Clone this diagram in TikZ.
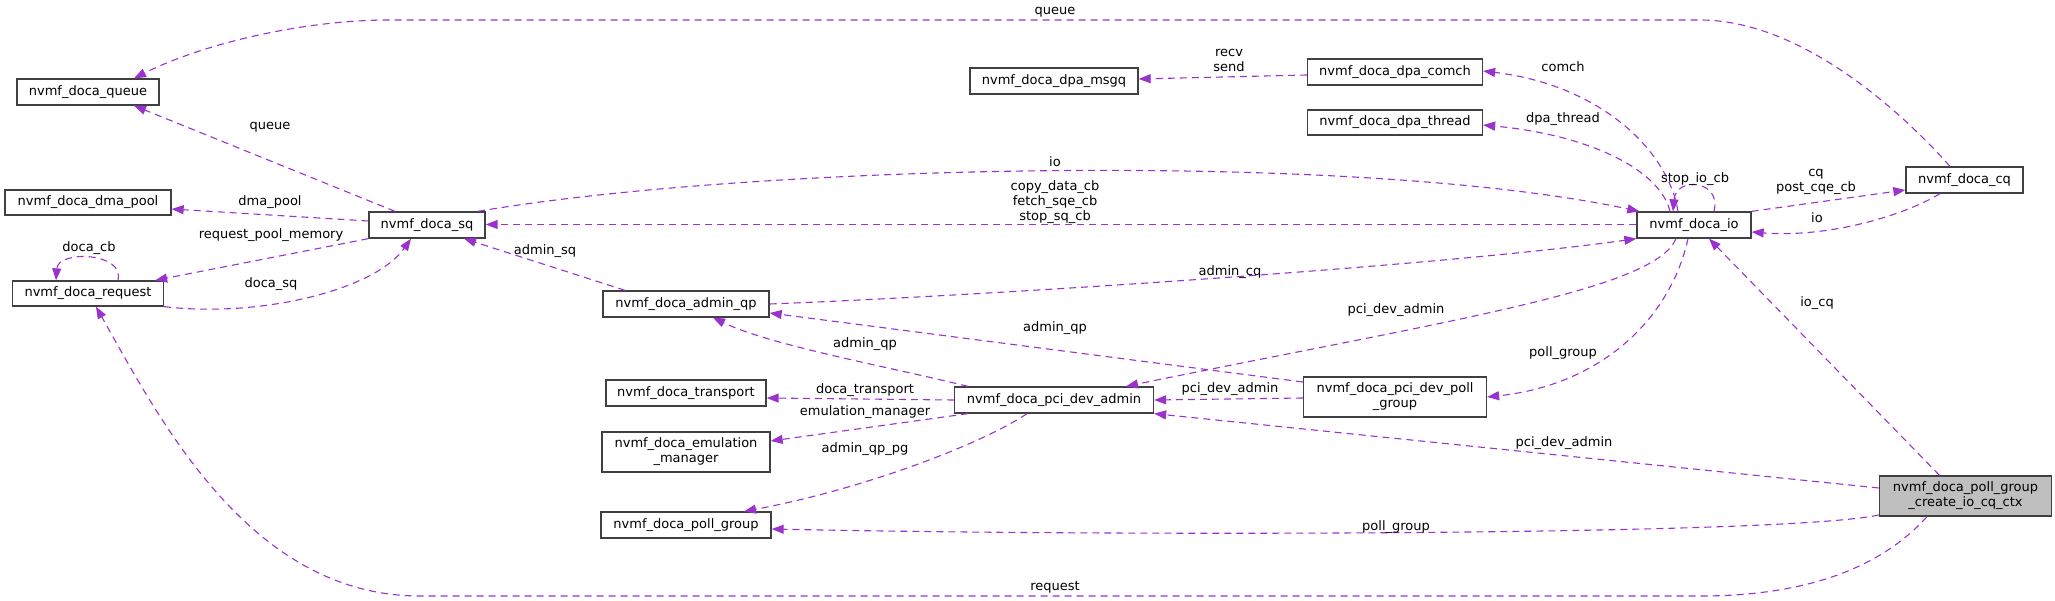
\documentclass[tikz,border=0pt]{standalone}
\usepackage{fontspec}
\setmainfont{DejaVu Sans}
\usetikzlibrary{arrows.meta}
\definecolor{edgecol}{HTML}{9A32CD}
\definecolor{boxcol}{HTML}{404040}
\definecolor{mainfill}{HTML}{BFBFBF}
\def\txtsize{\fontsize{13}{15}\selectfont}
\tikzset{
cls/.style={draw=boxcol, line width=1.3pt, fill=white, inner sep=0pt,
	minimum height=26pt, font=\txtsize, align=center},
cls2/.style={cls, minimum height=40pt},
focus/.style={cls2, fill=mainfill},
uses/.style={draw=edgecol, line width=1.1pt, dash pattern=on 7pt off 5pt,
	-{Triangle[length=12pt,width=9pt,fill=edgecol]}},
lbl/.style={inner sep=0pt, font=\txtsize, align=center},
}

\begin{document}
\begin{tikzpicture}[x=1pt, y=-1pt]
	\useasboundingbox (0,0) rectangle (2055,601);
	%
	\node[cls, minimum width=142pt] (queue) at (88,92) {nvmf\_doca\_queue};
	\node[cls, minimum width=166pt, minimum height=25pt] (dmapool) at (88,202.5) {nvmf\_doca\_dma\_pool};
	\node[cls, minimum width=151pt, minimum height=25pt] (request) at (88,293.5) {nvmf\_doca\_request};
	\node[cls, minimum width=116pt] (sq) at (427,225) {nvmf\_doca\_sq};
	\node[cls, minimum width=166pt] (adminqp) at (686,304) {nvmf\_doca\_admin\_qp};
	\node[cls, minimum width=160pt] (transport) at (686,393) {nvmf\_doca\_transport};
	\node[cls2, minimum width=168pt] (emul) at (686,452) {nvmf\_doca\_emulation\\\_manager};
	\node[cls, minimum width=170pt] (pollgroup) at (686,525) {nvmf\_doca\_poll\_group};
	\node[cls, minimum width=168pt] (msgq) at (1054,81) {nvmf\_doca\_dpa\_msgq};
	\node[cls, minimum width=199pt] (pcidevadmin) at (1054,400) {nvmf\_doca\_pci\_dev\_admin};
	\node[cls, minimum width=175pt] (comch) at (1395,72) {nvmf\_doca\_dpa\_comch};
	\node[cls, minimum width=175pt, minimum height=25pt] (thread) at (1395,122.5) {nvmf\_doca\_dpa\_thread};
	\node[cls2, minimum width=183pt] (devpg) at (1395,397) {nvmf\_doca\_pci\_dev\_poll\\\_group};
	\node[cls, minimum width=114pt] (io) at (1694,225) {nvmf\_doca\_io};
	\node[cls, minimum width=117pt] (cq) at (1964.5,180) {nvmf\_doca\_cq};
	\node[focus, minimum width=172pt] (ctx) at (1965.5,496) {nvmf\_doca\_poll\_group\\\_create\_io\_cq\_ctx};
	
	%
	\draw[uses] ([xshift=-14.5]cq.north) .. controls (1900,110) and (1800,20) .. (1700,20)
		-- (390,20) .. controls (300,20) and (200,45) .. ([xshift=46]queue.north);
	\node[lbl] (lqueuetop) at (1055,12) {queue};
	\draw[uses] ([yshift=-3]comch.west) -- ([yshift=2]msgq.east);
	\node[lbl] (lrecv) at (1229,60) {recv\\send};
	\draw[uses] ([xshift=-16]io.north) .. controls (1668,150) and (1600,85) .. ([yshift=1]comch.east);
	\node[lbl] (lcomch) at (1563,67) {comch};
	\draw[uses] ([xshift=-24]io.north) .. controls (1660,170) and (1590,135) .. ([yshift=-2.5]thread.east);
	\node[lbl] (lthread) at (1563,119) {dpa\_thread};
	\draw[uses] ([xshift=20]io.north) .. controls (1722,180) and (1676,176) .. ([xshift=-21]io.north);
	\node[lbl] (lstop) at (1695,179) {stop\_io\_cb};
	
	%
	\draw[uses] (io.north east) -- ([yshift=-10]cq.west);
	\node[lbl] (lcq) at (1816,182) {cq\\post\_cqe\_cb};
	\draw[uses] ([xshift=-24.5]cq.south) .. controls (1905,215) and (1830,238) .. ([yshift=-7]io.east);
	\node[lbl] (liocq) at (1817,218) {io};
	
	%
	\draw[uses] ([xshift=51]sq.north) .. controls (750,165) and (1350,150) .. ([xshift=3]io.north west);
	\node[lbl] (lio) at (1055,162) {io};
	\draw[uses] ([yshift=0.5]io.west) -- ([yshift=0.5]sq.east);
	\node[lbl] (lcb) at (1055,202) {copy\_data\_cb\\fetch\_sqe\_cb\\stop\_sq\_cb};
	\draw[uses] ([xshift=-32]sq.north) -- ([xshift=46]queue.south);
	\node[lbl] (lqueue) at (270,127) {queue};
	\draw[uses] ([yshift=4]sq.west) -- ([yshift=-6.5]dmapool.east);
	\node[lbl] (ldma) at (270,202) {dma\_pool};
	\draw[uses] (sq.south west) -- ([xshift=-9]request.north east);
	\node[lbl] (lpool) at (271,235) {request\_pool\_memory};
	\draw[uses] ([xshift=30]request.north) .. controls (125,252) and (58,250) .. ([xshift=-32]request.north);
	\node[lbl] (ldocacb) at (89,248) {doca\_cb};
	\draw[uses] (request.south east) .. controls (260,318) and (375,290) .. ([xshift=-16]sq.south);
	\node[lbl] (ldocasq) at (271,284) {doca\_sq};
	
	%
	\draw[uses] ([xshift=-61]adminqp.north) -- ([xshift=37]sq.south);
	\node[lbl] (ladminsq) at (545,251) {admin\_sq};
	\draw[uses] (adminqp.east) .. controls (1000,295) and (1450,265) .. (io.south west);
	\node[lbl] (ladmincq) at (1230,272) {admin\_cq};
	\draw[uses] ([xshift=-86]pcidevadmin.north) .. controls (880,365) and (770,345) .. ([xshift=27]adminqp.south);
	\node[lbl] (ladminqp) at (865,344) {admin\_qp};
	\draw[uses] ([yshift=15]devpg.west) -- ([yshift=-9]adminqp.east);
	\node[lbl] (ladminqpup) at (1055,328) {admin\_qp};
	
	%
	\draw[uses] ([xshift=-18]io.south) .. controls (1655,290) and (1450,320) .. ([xshift=72]pcidevadmin.north);
	\node[lbl] (lpdaio) at (1396,310) {pci\_dev\_admin};
	\draw[uses] ([xshift=-6]io.south) .. controls (1670,320) and (1600,385) .. (devpg.east);
	\node[lbl] (lpgio) at (1563,353) {poll\_group};
	\draw[uses] ([yshift=-1]devpg.west) -- (pcidevadmin.east);
	\node[lbl] (lpdapg) at (1230,389) {pci\_dev\_admin};
	\draw[uses] (pcidevadmin.west) -- ([yshift=-5]transport.east);
	\node[lbl] (ltransport) at (865,390) {doca\_transport};
	\draw[uses] ([xshift=-86]pcidevadmin.south) -- ([yshift=11]emul.east);
	\node[lbl] (lemul) at (865,412) {emulation\_manager};
	\draw[uses] ([xshift=-27]pcidevadmin.south) .. controls (980,445) and (860,490) .. ([xshift=58]pollgroup.north);
	\node[lbl] (lqppg) at (865,449) {admin\_qp\_pg};
	
	%
	\draw[uses] ([xshift=-26]ctx.north) -- ([xshift=15]io.south);
	\node[lbl] (liocqctx) at (1817,303) {io\_cq};
	\draw[uses] ([yshift=8]ctx.west) -- (pcidevadmin.south east);
	\node[lbl] (lpdactx) at (1564,443) {pci\_dev\_admin};
	\draw[uses] ([yshift=-19]ctx.west) .. controls (1780,536) and (1100,536) .. ([yshift=-4]pollgroup.east);
	\node[lbl] (lpgctx) at (1396,527) {poll\_group};
	\draw[uses] ([xshift=-38.5]ctx.south) .. controls (1870,580) and (1780,596) .. (1700,596)
		-- (420,596) .. controls (250,596) and (160,420) .. ([xshift=8]request.south);
	\node[lbl] (lrequest) at (1055,587) {request};
\end{tikzpicture}
\end{document}
